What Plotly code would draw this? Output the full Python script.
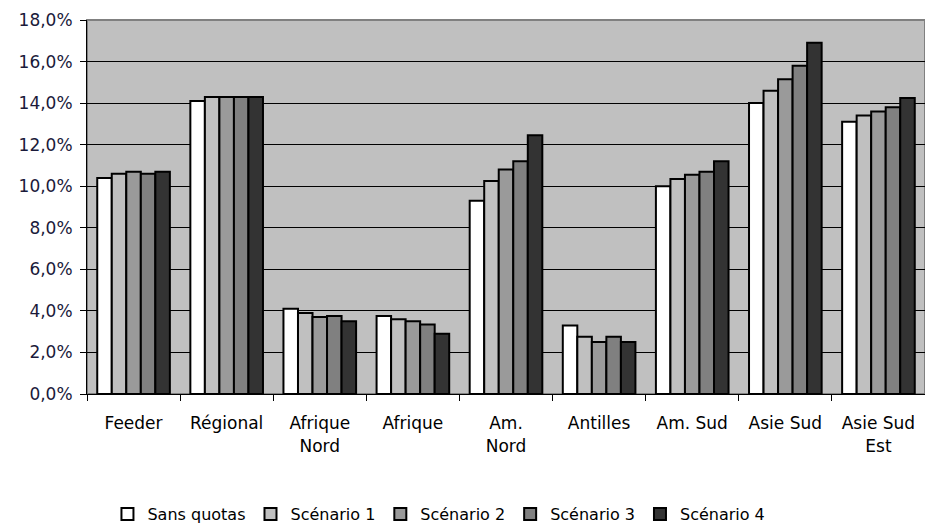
import plotly.graph_objects as go

categories = ["Feeder", "Régional", "Afrique<br>Nord", "Afrique", "Am.<br>Nord",
              "Antilles", "Am. Sud", "Asie Sud", "Asie Sud<br>Est"]
series_names = ["Sans quotas", "Scénario 1", "Scénario 2", "Scénario 3", "Scénario 4"]
sans_quotas = [10.4, 14.1, 4.1, 3.75, 9.3, 3.3, 10.0, 14.0, 13.1]
scenario_1 = [10.6, 14.3, 3.9, 3.6, 10.25, 2.75, 10.35, 14.6, 13.4]
scenario_2 = [10.7, 14.3, 3.7, 3.5, 10.8, 2.5, 10.55, 15.15, 13.6]
scenario_3 = [10.6, 14.3, 3.75, 3.35, 11.2, 2.75, 10.7, 15.8, 13.8]
scenario_4 = [10.7, 14.3, 3.5, 2.9, 12.45, 2.5, 11.2, 16.9, 14.25]
y_ticks = [0, 2, 4, 6, 8, 10, 12, 14, 16, 18]
y_tick_labels = [f"{v:.1f}%".replace(".", ",") for v in y_ticks]

values = [sans_quotas, scenario_1, scenario_2, scenario_3, scenario_4]
colors = ["#ffffff", "#c0c0c0", "#9a9a9a", "#808080", "#333333"]

font_family = "DejaVu Sans"

fig = go.Figure()
for name, vals, col in zip(series_names, values, colors):
    fig.add_trace(go.Bar(
        x=categories, y=vals, name=name,
        marker=dict(color=col, line=dict(color="#000000", width=2)),
    ))

fig.update_layout(
    width=925, height=518,
    barmode="group", bargap=0.22, bargroupgap=0,
    paper_bgcolor="#ffffff", plot_bgcolor="#c0c0c0",
    margin=dict(l=79, r=8, t=12, b=132, autoexpand=False),
    font=dict(family=font_family, size=17, color="#000000"),
    showlegend=True,
    legend=dict(orientation="h", x=0.42, xanchor="center", y=-0.321, yanchor="middle",
                font=dict(family=font_family, size=16, color="#000000"),
                itemwidth=30, tracegroupgap=0, traceorder="normal"),
    xaxis=dict(
        tickson="boundaries", ticks="outside", ticklen=6, tickcolor="#000000",
        showline=True, linecolor="#000000", linewidth=1, mirror=False,
        tickfont=dict(family=font_family, size=17, color="#000000"),
        ticklabelstandoff=14, automargin=False,
    ),
    yaxis=dict(
        range=[0, 18], tickvals=y_ticks, ticktext=y_tick_labels,
        ticks="outside", ticklen=6, tickcolor="#000000",
        showline=True, linecolor="#000000", linewidth=1,
        gridcolor="#000000", gridwidth=1,
        tickfont=dict(family=font_family, size=17, color="#1a1a3a"),
        zeroline=False, automargin=False, ticklabelstandoff=4,
    ),
    shapes=[dict(type="rect", xref="paper", yref="paper", x0=0, x1=1, y0=0, y1=1,
                 line=dict(color="#808080", width=2), layer="below")],
)

fig.write_html("out.html")
